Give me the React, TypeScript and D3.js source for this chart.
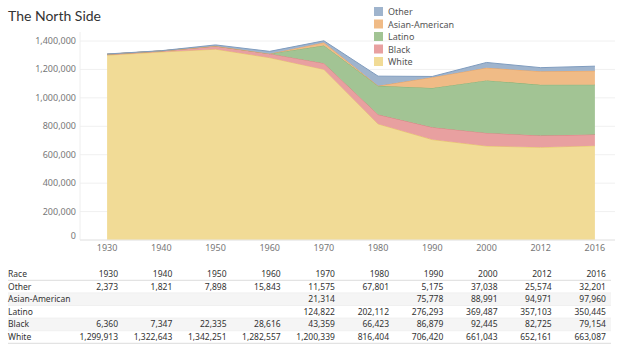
import React from 'react';
import * as d3 from 'd3';

const years = ['1930', '1940', '1950', '1960', '1970', '1980', '1990', '2000', '2012', '2016'];
const races = ['Other', 'Asian-American', 'Latino', 'Black', 'White'];
const other = [2373, 1821, 7898, 15843, 11575, 67801, 5175, 37038, 25574, 32201];
const asian = [null, null, null, null, 21314, null, 75778, 88991, 94971, 97960];
const latino = [null, null, null, null, 124822, 202112, 276293, 369487, 357103, 350445];
const black = [6360, 7347, 22335, 28616, 43359, 66423, 86879, 92445, 82725, 79154];
const white = [1299913, 1322643, 1342251, 1282557, 1200339, 816404, 706420, 661043, 652161, 663087];
const yTicks = [0, 200000, 400000, 600000, 800000, 1000000, 1200000, 1400000];

const seriesByRace: Record<string, (number | null)[]> = {
  Other: other,
  'Asian-American': asian,
  Latino: latino,
  Black: black,
  White: white,
};
const fills: Record<string, string> = {
  Other: '#9fb4cd',
  'Asian-American': '#f0bb86',
  Latino: '#a2c494',
  Black: '#e8a0a0',
  White: '#f1db96',
};
const strokes: Record<string, string> = {
  Other: '#7f9cbf',
  'Asian-American': '#e8a262',
  Latino: '#86b176',
  Black: '#db7f80',
  White: '#e8c96c',
};

const W = 619;
const H = 351;
const font = '"Noto Sans", "Open Sans", sans-serif';

export default function App() {
  const x = d3.scalePoint<string>().domain(years).range([80, 622]).padding(0.5);
  const y = d3.scaleLinear().domain([0, 1400000]).range([240, 41]);

  const rows = years.map((yr, i) => {
    const r: any = { year: yr };
    races.forEach(k => { r[k] = seriesByRace[k][i] ?? 0; });
    return r;
  });
  const stackOrder = ['White', 'Black', 'Latino', 'Asian-American', 'Other'];
  const stacked = d3.stack<any>().keys(stackOrder)(rows);

  const area = d3.area<any>()
    .x(d => x(d.data.year)!)
    .y0(d => y(d[0]))
    .y1(d => y(d[1]));
  const topLine = d3.line<any>()
    .x(d => x(d.data.year)!)
    .y(d => y(d[1]));

  const fmt = d3.format(',');
  const rowH = 12.6;
  const headerY = 274;

  return (
    <svg width={W} height={H} style={{ position: 'absolute', left: 0, top: 0, fontFamily: font }}>
      <rect width={W} height={H} fill="#fff" />
      <text x={8} y={21} fontSize={14} fill="#333" fontFamily='Lato, "Noto Sans", sans-serif'>The North Side</text>

      {/* gridlines */}
      {yTicks.map(t => (
        <line key={t} x1={80} x2={615} y1={y(t)} y2={y(t)} stroke="#f0f0f0" strokeWidth={1} />
      ))}
      <line x1={80} x2={80} y1={32} y2={240} stroke="#eee" />

      {/* areas */}
      {stacked.map(s => (
        <g key={s.key}>
          <path d={area(s as any) || ''} fill={fills[s.key]} />
          <path d={topLine(s as any) || ''} fill="none" stroke={strokes[s.key]} strokeWidth={1} />
        </g>
      ))}

      <line x1={80} x2={615} y1={240} y2={240} stroke="#e6e6e6" />

      {/* y axis labels */}
      {yTicks.map(t => (
        <text key={t} x={76} y={y(t) + 3 - (t === 0 ? 4 : 0)} textAnchor="end" fontSize={9} fill="#777">{fmt(t)}</text>
      ))}
      {/* x axis labels */}
      {years.map(yr => (
        <text key={yr} x={x(yr)!} y={251} textAnchor="middle" fontSize={9} fill="#777">{yr}</text>
      ))}

      {/* legend */}
      {races.map((k, i) => (
        <g key={k} transform={`translate(374,${7 + i * 12.5})`}>
          <rect width={9} height={9} fill={fills[k]} />
          <text x={14} y={8} fontSize={9} fill="#555">{k}</text>
        </g>
      ))}

      {/* table */}
      <text x={8} y={headerY + 3} fontSize={8.5} fill="#333">Race</text>
      {years.map(yr => (
        <text key={yr} x={x(yr)! + 11} y={headerY + 3} textAnchor="end" fontSize={8.5} fill="#333">{yr}</text>
      ))}
      {races.map((k, i) => {
        const cy = headerY + rowH * (i + 1);
        return (
          <g key={k}>
            {i % 2 === 1 && (
              <rect x={8} y={cy - rowH / 2} width={603} height={rowH} fill="#f5f5f5" />
            )}
            <line x1={8} x2={611} y1={cy - rowH / 2} y2={cy - rowH / 2} stroke={i === 0 ? '#ddd' : '#f0f0f0'} />
            <text x={8} y={cy + 3} fontSize={8.5} fill="#333">{k}</text>
            {years.map((yr, j) => {
              const v = seriesByRace[k][j];
              return v == null ? null : (
                <text key={yr} x={x(yr)! + 11} y={cy + 3} textAnchor="end" fontSize={8.5} fill="#333">{fmt(v)}</text>
              );
            })}
          </g>
        );
      })}
      <line x1={8} x2={611} y1={headerY + rowH * 5.5} y2={headerY + rowH * 5.5} stroke="#ddd" />
    </svg>
  );
}
